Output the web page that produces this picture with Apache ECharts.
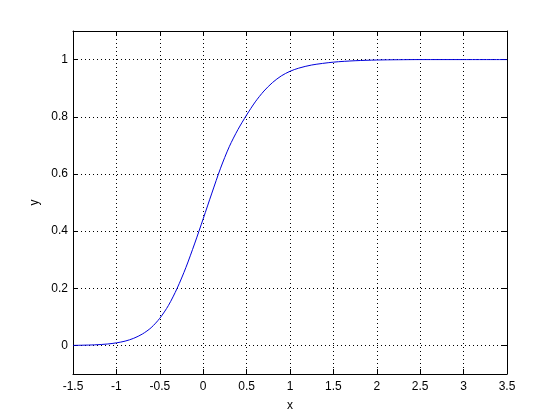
<!DOCTYPE html>
<html>
<head>
<meta charset="utf-8">
<script src="https://cdn.jsdelivr.net/npm/echarts@6/dist/echarts.min.js"></script>
<style>
html,body{margin:0;padding:0;background:#fff;}
#chart{width:560px;height:420px;}
</style>
</head>
<body>
<div id="chart"></div>
<script>
// Curve values
const xValues = [-1.5,-1.25,-1.1,-1.0,-0.9,-0.8,-0.7,-0.6,-0.5,-0.4,-0.3,-0.2,-0.1,0,0.1,0.2,0.3,0.4,0.5,0.6,0.7,0.8,0.9,1.0,1.1,1.25,1.5,1.75,2.0,2.25,2.5,3.0,3.5];
const yValues = [0.0,0.002,0.005,0.009,0.015,0.025,0.040,0.062,0.095,0.140,0.200,0.272,0.355,0.443,0.533,0.620,0.695,0.755,0.806,0.852,0.890,0.920,0.943,0.959,0.970,0.981,0.991,0.996,0.9985,0.9995,1.0,1.0,1.0];
// Tick values
const xTicks = [-1.5,-1,-0.5,0,0.5,1,1.5,2,2.5,3,3.5];
const yTicks = [0,0.2,0.4,0.6,0.8,1];

const chart = echarts.init(document.getElementById('chart'), null, {renderer:'canvas'});
const font = 'Liberation Sans, Arial, Helvetica, sans-serif';
const gridLine = {show:true, lineStyle:{color:'#000', width:1, type:[1,3]}};
const boxLine = {show:true, onZero:false, lineStyle:{color:'#000', width:1}};
const tick = {show:true, inside:true, length:5, lineStyle:{color:'#000', width:1}};

const option = {
  animation:false,
  backgroundColor:'#fff',
  grid:{left:73, right:53, top:31, bottom:46, containLabel:false},
  xAxis:[
    {type:'value', min:-1.5, max:3.5, interval:0.5, position:'bottom',
     axisLine:boxLine,
     axisTick:Object.assign({customValues:xTicks}, tick),
     axisLabel:{color:'#000', fontSize:12, fontFamily:font, margin:7, customValues:xTicks},
     splitLine:gridLine,
     name:'x', nameLocation:'middle', nameGap:26,
     nameTextStyle:{color:'#000', fontSize:12, fontFamily:font}},
    {type:'value', min:-1.5, max:3.5, interval:0.5, position:'top',
     axisLine:boxLine,
     axisTick:Object.assign({customValues:xTicks}, tick),
     axisLabel:{show:false}, splitLine:{show:false}}
  ],
  yAxis:[
    {type:'value', min:-0.1, max:1.1, position:'left',
     axisLine:boxLine,
     axisTick:Object.assign({customValues:yTicks}, tick),
     axisLabel:{color:'#000', fontSize:12, fontFamily:font, margin:5, customValues:yTicks},
     splitLine:gridLine,
     name:'y', nameLocation:'middle', nameGap:27,
     nameTextStyle:{color:'#000', fontSize:12, fontFamily:font}},
    {type:'value', min:-0.1, max:1.1, position:'right',
     axisLine:boxLine,
     axisTick:Object.assign({customValues:yTicks}, tick),
     axisLabel:{show:false}, splitLine:{show:false}}
  ],
  series:[{
    type:'line',
    data:xValues.map((x,i)=>[x,yValues[i]]),
    smooth:0.3,
    showSymbol:false,
    lineStyle:{color:'#0000dc', width:1},
    xAxisIndex:0, yAxisIndex:0
  }]
};
chart.setOption(option);
</script>
</body>
</html>
